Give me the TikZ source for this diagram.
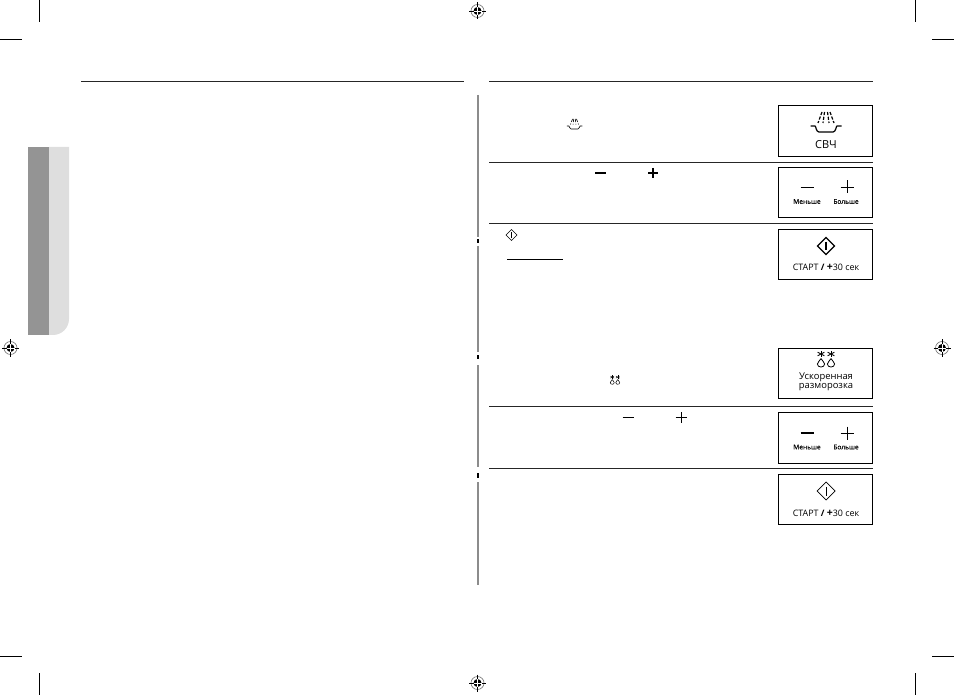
\documentclass[tikz,border=0pt]{standalone}
\usepackage{fontspec}
\setmainfont{Open Sans}
\newfontfamily\keyfont[RawFeature={embolden=0.25}]{Open Sans}
\usetikzlibrary{positioning}

\tikzset{
  keybox/.style={draw=black, line width=1pt, minimum width=94.5pt, minimum height=50.5pt, inner sep=0pt},
  rule/.style={line width=1pt, black!85},
  crop/.style={line width=0.9pt, black},
  sidebar/.style={line width=1.5pt, black!45},
  tick/.style={line width=1.5pt, black},
  keytext/.style={inner sep=0pt, font=\fontsize{8.9pt}{10pt}\selectfont},
  deftext/.style={inner sep=0pt, font=\fontsize{9.4pt}{11pt}\selectfont},
  smalltext/.style={inner sep=0pt, font=\keyfont\fontsize{6.6pt}{8pt}\selectfont},
}

% Registration target
\newcommand{\regmark}[2]{
  \begin{scope}[shift={(#1,#2)}]
    \draw[line width=0.6pt, black!55] (0,0) circle (6.5);
    \fill[black] (0,0) circle (4);
    \draw[line width=0.7pt, black] (-8.5,0) -- (8.5,0);
    \draw[line width=0.7pt, black] (0,-8.5) -- (0,8.5);
    \draw[line width=0.3pt, white] (-4,0) -- (4,0);
    \draw[line width=0.3pt, white] (0,-4) -- (0,4);
  \end{scope}
}

% Pan with steam
\newcommand{\panicon}[4]{
  \begin{scope}[shift={(#1,#2)}, scale=#3]
    \draw[line width=#4] (-15.5,0) -- (-11,0) .. controls (-10,0) and (-10,6) .. (-7,6) -- (7,6) .. controls (10,6) and (10,0) .. (11,0) -- (15.5,0);
    \draw[line width=#4, dash pattern=on 3.2 off 1.6] (-4,-14) -- (-8,-3);
    \draw[line width=#4, dash pattern=on 3.2 off 1.6] (-1.5,-14) -- (-3,-3);
    \draw[line width=#4, dash pattern=on 3.2 off 1.6] (1.5,-14) -- (3,-3);
    \draw[line width=#4, dash pattern=on 3.2 off 1.6] (4,-14) -- (8,-3);
  \end{scope}
}

% Start diamond
\newcommand{\starticon}[5]{
  \begin{scope}[shift={(#1,#2)}]
    \draw[line width=#4] (-#3,0) -- (0,-#3) -- (#3,0) -- (0,#3) -- cycle;
    \draw[line width=#5] (0,-#3*0.5) -- (0,#3*0.5);
  \end{scope}
}

% Minus and plus
\newcommand{\minusicon}[4]{\draw[line width=#4] (#1-#3,#2) -- (#1+#3,#2);}
\newcommand{\plusicon}[4]{
  \draw[line width=#4] (#1-#3,#2) -- (#1+#3,#2);
  \draw[line width=#4] (#1,#2-#3) -- (#1,#2+#3);
}

% Snowflakes over drops
\newcommand{\defrosticon}[4]{
  \begin{scope}[shift={(#1,#2)}, scale=#3]
    \foreach \sx in {-5,5} {
      \draw[line width=#4] (\sx,-11) -- (\sx,-5);
      \draw[line width=#4] (\sx-3.4,-9.8) -- (\sx+3.4,-6.2);
      \draw[line width=#4] (\sx+3.4,-9.8) -- (\sx-3.4,-6.2);
      \draw[line width=#4] (\sx,-3.5) .. controls (\sx+1,-1) and (\sx+3.6,0) .. (\sx+3.6,2) .. controls (\sx+3.6,6) and (\sx-3.6,6) .. (\sx-3.6,2) .. controls (\sx-3.6,0) and (\sx-1,-1) .. (\sx,-3.5);
    }
  \end{scope}
}

\begin{document}
\begin{tikzpicture}[x=1pt, y=-1pt]

  \useasboundingbox (0,0) rectangle (954,695);

  % Crop marks
  \draw[crop] (39,0) -- (39,22);
  \draw[crop] (0,39) -- (22,39);
  \draw[crop] (915,0) -- (915,22);
  \draw[crop] (932,39) -- (954,39);
  \draw[crop] (39,673) -- (39,695);
  \draw[crop] (0,656) -- (22,656);
  \draw[crop] (915,673) -- (915,695);
  \draw[crop] (932,656) -- (954,656);

  % Registration targets
  \regmark{477.5}{11}
  \regmark{10.5}{348}
  \regmark{942}{348}
  \regmark{477.5}{683}

  % Side tab
  \fill[black!13] (49,147) -- (69,147) -- (69,319) arc[start angle=0, end angle=90, radius=16] -- (49,335) -- cycle;
  \fill[black!42] (28,147) rectangle (49,335);

  % Header rules
  \draw[rule] (81,81.5) -- (464,81.5);
  \draw[rule] (489,81.5) -- (873,81.5);

  % Row rules
  \draw[rule] (489,162.5) -- (873,162.5);
  \draw[rule] (489,223.5) -- (873,223.5);
  \draw[rule] (489,406.5) -- (873,406.5);
  \draw[rule] (489,468.5) -- (873,468.5);

  % Divider with ticks
  \draw[sidebar] (478,95) -- (478,237);
  \draw[tick] (478,239) -- (478,243);
  \draw[sidebar] (478,246) -- (478,352);
  \draw[tick] (478,355) -- (478,359);
  \draw[sidebar] (478,365) -- (478,467);
  \draw[tick] (478,473) -- (478,478);
  \draw[sidebar] (478,482) -- (478,585);

  % Underline in the text column
  \draw[line width=0.8pt] (507,259.5) -- (563,259.5);

  % Icons in the text column
  \panicon{574.5}{126}{0.5}{0.6pt}
  \minusicon{600.5}{173}{5.5}{1.8pt}
  \plusicon{653}{173}{5}{1.8pt}
  \starticon{511.5}{235}{5.5}{0.5pt}{0.9pt}
  \defrosticon{615}{381.5}{0.55}{0.5pt}
  \minusicon{628}{417.5}{5.5}{0.7pt}
  \plusicon{681}{417.5}{5.5}{0.9pt}

  % Microwave key
  \node[keybox] (svchbox) at (825.5,131) {};
  \panicon{826}{126}{1}{1.2pt}
  \node[inner sep=0pt, font=\fontsize{11pt}{13pt}\selectfont] (svchtext) at (826,145) {СВЧ};

  % Less and more key
  \node[keybox] (stepbox) at (825.5,192.5) {};
  \minusicon{807}{187}{6.5}{0.6pt}
  \plusicon{847}{187}{6.5}{0.6pt}
  \node[smalltext] (lessa) at (807,201.5) {Меньше};
  \node[smalltext] (morea) at (846,201.5) {Больше};

  % Start key
  \node[keybox] (startbox) at (825.5,254.5) {};
  \starticon{826}{246}{8.5}{1.1pt}{1.6pt}
  \node[keytext] (starttext) at (826,267.5) {СТАРТ \textbf{/ \fontsize{10.5pt}{10pt}\selectfont +}30 сек};

  % Fast defrost key
  \node[keybox] (defrostbox) at (825.5,373.5) {};
  \defrosticon{826}{362}{1}{0.8pt}
  \node[deftext] (defrosta) at (826,377) {Ускоренная};
  \node[deftext, below=1.2pt of defrosta] (defrostb) {разморозка};

  % Less and more key, bold minus
  \node[keybox] (stepboxb) at (825.5,438) {};
  \minusicon{807}{433}{6.5}{1.5pt}
  \plusicon{847}{433}{6.5}{0.7pt}
  \node[smalltext] (lessb) at (807,447) {Меньше};
  \node[smalltext] (moreb) at (846,447) {Больше};

  % Start key, thin mark
  \node[keybox] (startboxb) at (825.5,499.5) {};
  \starticon{826}{491}{9}{0.7pt}{0.5pt}
  \node[keytext] (starttextb) at (826,513.5) {СТАРТ \textbf{/ \fontsize{10.5pt}{10pt}\selectfont +}30 сек};

\end{tikzpicture}
\end{document}
